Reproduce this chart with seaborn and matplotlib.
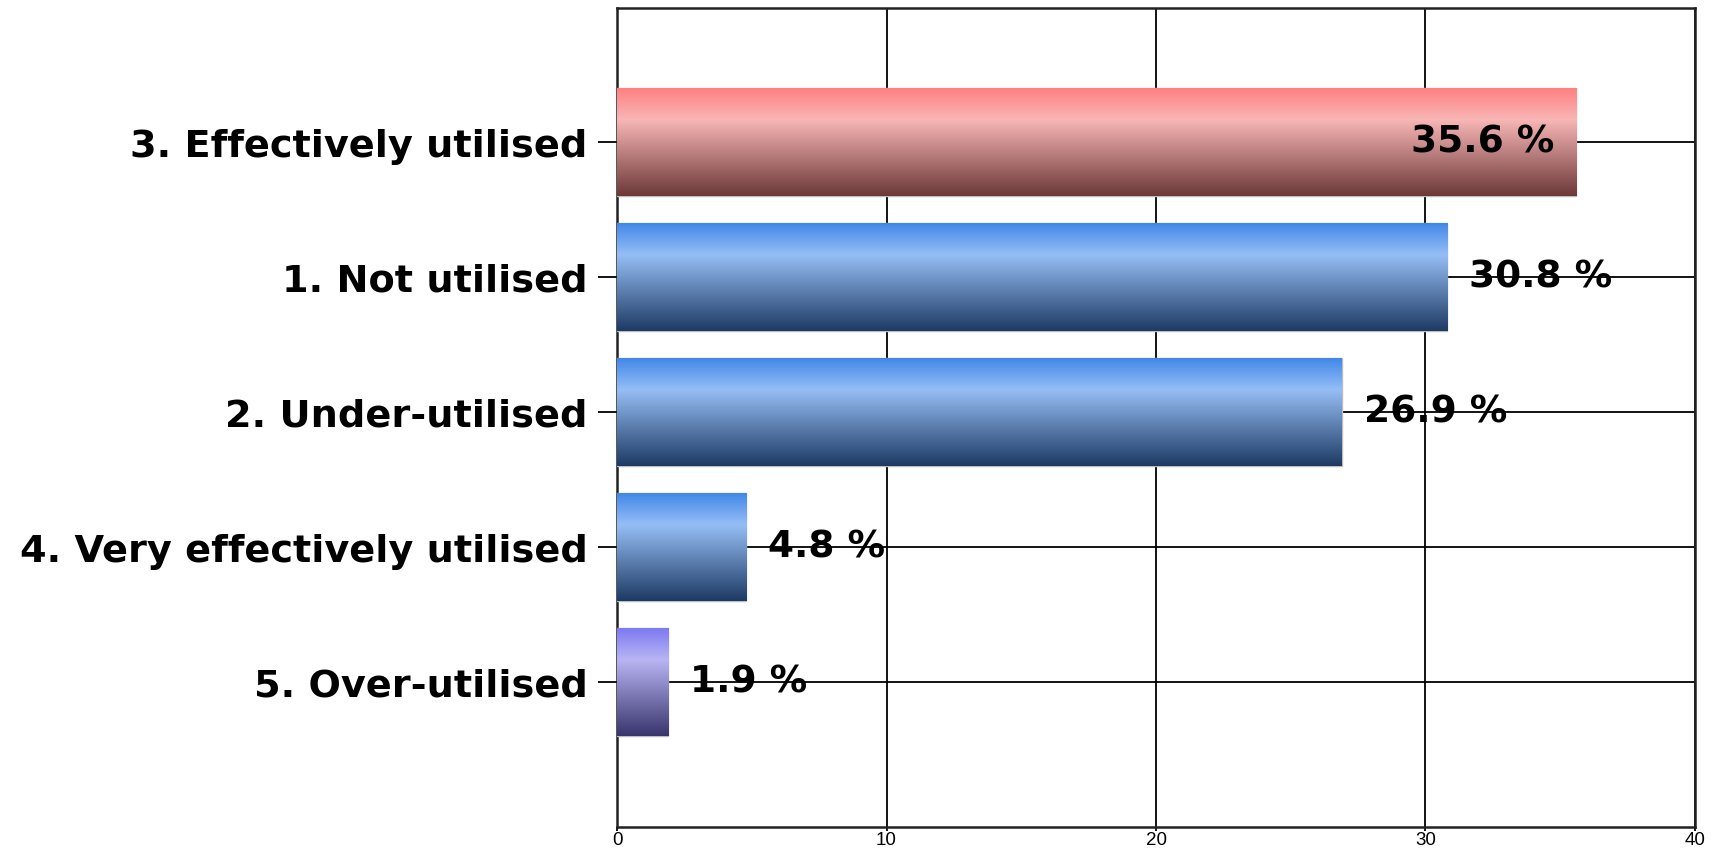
import numpy as np
import matplotlib
matplotlib.use("Agg")
import matplotlib.pyplot as plt
from matplotlib.colors import LinearSegmentedColormap
import seaborn as sns

# Data
categories = ["3. Effectively utilised", "1. Not utilised", "2. Under-utilised",
              "4. Very effectively utilised", "5. Over-utilised"]
percent = [35.6, 30.8, 26.9, 4.8, 1.9]
value_labels = ["35.6 %", "30.8 %", "26.9 %", "4.8 %", "1.9 %"]
x_ticks = [0, 10, 20, 30, 40]

# vertical gradient per bar: top, highlight, bottom
gradients = {
    "red": ["#ff7f7f", "#f8b6b6", "#6c3838"],
    "blue": ["#3f86e8", "#96bef5", "#1d3a63"],
    "purple": ["#7a78f2", "#b9b5f4", "#38346c"],
}
bar_colours = ["red", "blue", "blue", "blue", "purple"]

sns.set_style("white")
plt.rcParams["font.family"] = ["DejaVu Sans"]

fig = plt.figure(figsize=(17.25, 8.54), dpi=100)
ax = fig.add_axes([0.3577, 0.031, 0.6249, 0.9585])

sns.barplot(x=percent, y=categories, orient="h", color="#4a86e8",
            width=0.8, ax=ax, zorder=3)

ax.set_xlim(0, 40)
ax.set_ylim(5.07, -0.99)
ax.set_xticks(x_ticks)
ax.set_xticklabels([str(t) for t in x_ticks], fontsize=13.5, family="Liberation Sans")
ax.set_xlabel("")
ax.set_ylabel("")
for lbl in ax.get_yticklabels():
    lbl.set_fontsize(27.5)
    lbl.set_fontweight("bold")

ax.grid(True, axis="both", color="black", linewidth=1.3, zorder=0)
ax.set_axisbelow(True)
ax.tick_params(axis="y", length=14, width=1.3, pad=7, colors="black", left=True)
ax.tick_params(axis="x", length=3, width=1.3, pad=0.5, colors="black", bottom=True)
for side in ["top", "bottom", "left", "right"]:
    ax.spines[side].set_visible(True)
    ax.spines[side].set_color("#222222")
    ax.spines[side].set_linewidth(1.8)

# gradient fill for each bar
ramp = np.linspace(0, 1, 256).reshape(-1, 1)
for patch, key in zip(ax.patches, bar_colours):
    cmap = LinearSegmentedColormap.from_list(key, list(zip([0, 0.3, 1], gradients[key])))
    x0, y0 = patch.get_x(), patch.get_y()
    w, h = patch.get_width(), patch.get_height()
    im = ax.imshow(ramp, cmap=cmap, aspect="auto", origin="upper",
                   extent=[x0, x0 + w, y0 + h, y0], zorder=4, interpolation="bilinear")
    im.set_clip_path(patch)
    patch.set_edgecolor("#bdbdbd")
    patch.set_linewidth(1.0)
ax.set_xlim(0, 40)
ax.set_ylim(5.07, -0.99)

# value labels
for i, (v, txt) in enumerate(zip(percent, value_labels)):
    if v > 33:
        ax.text(v - 0.8, i, txt, ha="right", va="center", fontsize=27,
                fontweight="bold", color="black", zorder=6)
    else:
        ax.text(v + 0.8, i, txt, ha="left", va="center", fontsize=27,
                fontweight="bold", color="black", zorder=6)

fig.savefig("out.png", dpi=100)
